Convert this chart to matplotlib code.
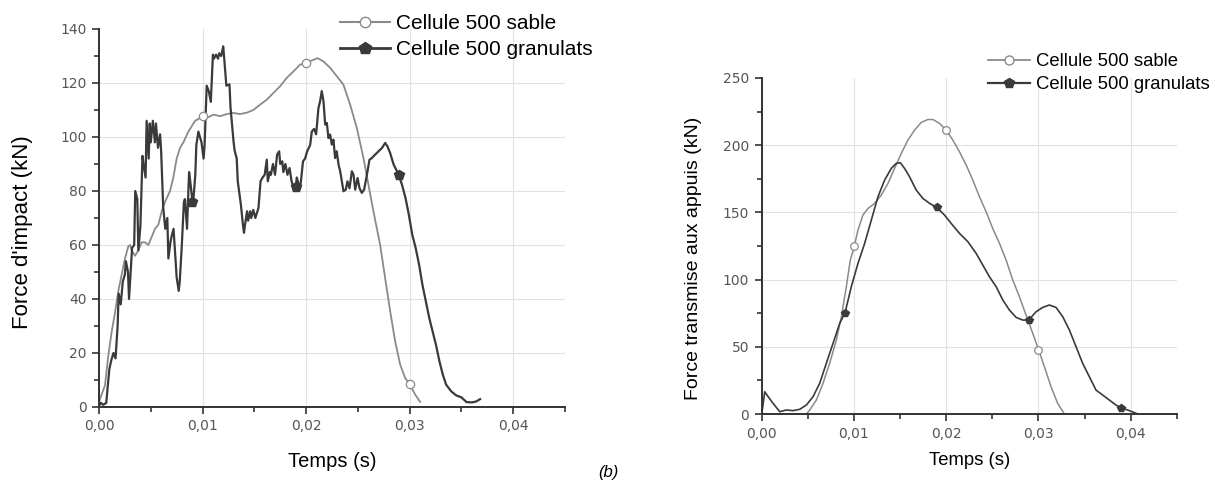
import matplotlib
matplotlib.use("Agg")
import matplotlib.pyplot as plt
from matplotlib.lines import Line2D
from matplotlib.ticker import FuncFormatter, MultipleLocator

# ---- data ----
# (a) force d'impact, time in s, force in kN
impact_sable_t = [0.0, 0.0001, 0.00058, 0.0009, 0.00123, 0.00155, 0.00187, 0.00219, 0.00251,
                  0.00283, 0.0030, 0.00316, 0.00348, 0.0038, 0.00412, 0.00444, 0.00477, 0.00509,
                  0.00541, 0.00573, 0.00606, 0.00638, 0.00686, 0.00718, 0.0075, 0.00783, 0.00815,
                  0.00863, 0.00928, 0.00998, 0.0104, 0.01105, 0.01169, 0.01234, 0.01298, 0.01362,
                  0.01427, 0.01491, 0.01556, 0.0162, 0.01684, 0.01749, 0.01813, 0.01878, 0.01942,
                  0.0200, 0.02071, 0.0211, 0.02167, 0.02232, 0.02297, 0.0236, 0.02425, 0.0249,
                  0.02554, 0.02602, 0.0265, 0.02715, 0.02763, 0.02812, 0.0286, 0.02908, 0.02957,
                  0.0300, 0.03053, 0.03101]
impact_sable_f = [1, 3, 8, 19, 28, 35, 43, 49, 55,
                  59.5, 60, 58, 56, 58, 61, 61, 60, 63,
                  66, 67.5, 72.5, 76, 80, 85, 92, 96, 98,
                  102, 106, 107.5, 107, 108.3, 107.7, 108.5, 108.9, 108.5,
                  109, 110, 112, 113.8, 116.3, 118.8, 121.9, 124.3, 126.8,
                  127.4, 128.6, 129.2, 128, 125.6, 122.5, 119.4, 112, 103.3,
                  92.2, 82.3, 72.5, 60, 47.8, 35.4, 24.3, 15.7, 10.7,
                  8.5, 4.6, 1.9]

impact_gran_t = [0.0, 0.0002, 0.0004, 0.0007, 0.0010, 0.0012, 0.0014, 0.0016, 0.0018, 0.0019,
                 0.0021, 0.0023, 0.0025, 0.0026, 0.0028, 0.0029, 0.0031, 0.0032, 0.0034, 0.0035,
                 0.0037, 0.0038, 0.0040, 0.0042, 0.0043, 0.0045, 0.0046, 0.0048, 0.0049, 0.0050,
                 0.0052, 0.0054, 0.0055, 0.0057, 0.0059, 0.0060, 0.0062, 0.0064, 0.0066, 0.0067,
                 0.0069, 0.0070, 0.0072, 0.0074, 0.0075, 0.0077, 0.0078, 0.0080, 0.0082, 0.0083,
                 0.0085, 0.0087, 0.0088, 0.0090, 0.0091, 0.0093, 0.0094, 0.0096, 0.0099, 0.0101,
                 0.0102, 0.0104, 0.0106, 0.0108, 0.0110, 0.0111, 0.0113, 0.0115, 0.0116, 0.0118,
                 0.0120, 0.0122, 0.0123, 0.0126, 0.0127, 0.0130, 0.0131, 0.0133, 0.0134, 0.0137,
                 0.0139, 0.0140, 0.0141, 0.0143, 0.0144, 0.0146, 0.0147, 0.0149, 0.0151, 0.0154,
                 0.0156, 0.0158, 0.0160, 0.0162, 0.0163, 0.0165, 0.0166, 0.0168, 0.0170, 0.0172,
                 0.0174, 0.0175, 0.0177, 0.0178, 0.0180, 0.0182, 0.0184, 0.0186, 0.0187, 0.0190,
                 0.0191, 0.0192, 0.0194, 0.0195, 0.0197, 0.0199, 0.0201, 0.02039, 0.02055, 0.02077,
                 0.02097, 0.02119, 0.02135, 0.02151, 0.02168, 0.02184, 0.0220, 0.02216, 0.02232,
                 0.02248, 0.02264, 0.0228, 0.02296, 0.02313, 0.02329, 0.02345, 0.02361, 0.02383,
                 0.02399, 0.02419, 0.02442, 0.02458, 0.02474, 0.02497, 0.02516, 0.02538, 0.0256,
                 0.02587, 0.02612, 0.02635, 0.02667, 0.02699, 0.02732, 0.02764, 0.02786, 0.02812,
                 0.02845, 0.02894, 0.02926, 0.0296, 0.02992, 0.03025, 0.03058, 0.03091, 0.03123,
                 0.03156, 0.03189, 0.03221, 0.03254, 0.03287, 0.0332, 0.03352, 0.03401, 0.03449,
                 0.03498, 0.0355, 0.0360, 0.0364, 0.0368]
impact_gran_f = [0.5, 1.5, 0.8, 1.5, 14, 17.5, 20, 18, 30, 42,
                 38, 46.5, 49, 54, 50, 40, 53, 59, 60, 80,
                 77, 58, 67, 93, 90, 85, 106, 92, 105, 98,
                 106, 98, 105, 96, 101, 95, 74, 66, 70, 55,
                 61, 63, 66, 54, 48, 43, 46.5, 60, 76, 77,
                 66, 87, 84, 77, 76, 86, 97, 102, 98, 92,
                 97, 119, 117, 113, 130.5, 129, 130.5, 129, 131, 130,
                 133.6, 124, 119, 119.5, 111, 98, 95, 92, 83.6, 75,
                 67.5, 64.5, 67.5, 72.5, 69, 72.5, 70, 73, 70, 73.7,
                 83.6, 85, 86, 91.6, 83.6, 87, 86, 90, 86, 93.5,
                 94.7, 90, 91, 87, 90, 86, 88.5, 83.6, 82.3, 81.5,
                 85, 83.6, 81, 83.6, 91, 92, 94.7, 97, 102, 103,
                 101, 110.7, 113.2, 117, 113.2, 104.6, 105.2, 99.6, 100.9,
                 97.2, 99, 92.2, 94.7, 89.8, 87.3, 83.6, 79.9, 80.5,
                 83.6, 81, 87.3, 86, 80.5, 84.8, 81, 79.3, 80.5,
                 86, 91.6, 92.2, 93.5, 94.7, 95.9, 97.8, 96.5, 94,
                 89.8, 86, 82.3, 77.4, 71.2, 63.8, 58.9, 52.7, 45.3,
                 39.1, 33, 28, 23, 17, 12, 8.3, 5.8, 4.3,
                 3.6, 1.8, 1.7, 2.0, 2.9]

impact_sable_mk_t = [0.010, 0.020, 0.030]
impact_sable_mk_f = [107.6, 127.4, 8.5]
impact_gran_mk_t = [0.009, 0.019, 0.029]
impact_gran_mk_f = [76, 81.5, 86]

# (b) force transmise aux appuis
appuis_sable_t = [0.0, 0.00484, 0.0052, 0.00592, 0.00664, 0.00736, 0.00809, 0.00863, 0.00917,
                  0.0096, 0.01004, 0.01043, 0.01097, 0.01152, 0.01224, 0.01296, 0.01368, 0.0144,
                  0.01513, 0.01585, 0.01657, 0.01729, 0.01801, 0.01856, 0.01928, 0.0200, 0.02072,
                  0.02144, 0.02217, 0.02289, 0.02361, 0.02433, 0.02505, 0.02578, 0.0265, 0.02722,
                  0.02794, 0.02866, 0.02939, 0.0300, 0.03065, 0.03137, 0.03209, 0.03282]
appuis_sable_f = [0, 0, 3, 10.4, 22.8, 37.7, 55, 72.4, 94.7,
                  114.5, 125, 136.8, 148, 153, 156.7, 162.9, 171.5, 182.7,
                  193.9, 203.8, 211.2, 216.9, 219.1, 219.1, 216.2, 211.2, 203.8,
                  195.1, 185.2, 174, 161.6, 150.5, 138, 126.9, 114.5, 99.7,
                  87.3, 73.6, 60, 48.1, 35.2, 20.3, 7.9, 0]

appuis_gran_t = [0.0, 0.00032, 0.00069, 0.00123, 0.00195, 0.00267, 0.00339, 0.00412, 0.00484,
                 0.00556, 0.00628, 0.0070, 0.00773, 0.00845, 0.00903, 0.00971, 0.01043, 0.01116,
                 0.01188, 0.0126, 0.01332, 0.01404, 0.01458, 0.01502, 0.01549, 0.01603, 0.01675,
                 0.01747, 0.0182, 0.01899, 0.01982, 0.02054, 0.02144, 0.02235, 0.02325, 0.02397,
                 0.02469, 0.02542, 0.02614, 0.02686, 0.02758, 0.0283, 0.02895, 0.02975, 0.03047,
                 0.03119, 0.03191, 0.03264, 0.03336, 0.03408, 0.0348, 0.03552, 0.03625, 0.03697,
                 0.03769, 0.03841, 0.03897, 0.03987, 0.04077]
appuis_gran_f = [0, 16.6, 12.9, 7.9, 1.7, 3, 2.5, 3.5, 6.7,
                 12.9, 22.8, 37.7, 52.6, 67.4, 75.4, 94.7, 112, 127,
                 144.3, 161.6, 174, 182.7, 186.4, 187, 182.7, 176.5, 166.6,
                 160.4, 156.7, 153.7, 148, 141.8, 134.4, 128.2, 119.5, 110.8,
                 102.1, 94.7, 84.8, 77.3, 71.9, 69.9, 69.9, 76.1, 79.3,
                 81.1, 79.3, 72.4, 62.5, 50.1, 37.7, 27.8, 17.8, 14.1,
                 10.4, 6.7, 4.7, 2.5, 0]

appuis_sable_mk_t = [0.010, 0.020, 0.030]
appuis_sable_mk_f = [125, 211, 48]
appuis_gran_mk_t = [0.009, 0.019, 0.029, 0.039]
appuis_gran_mk_f = [75.4, 153.7, 69.9, 4.7]

labels = ["Cellule 500 sable", "Cellule 500 granulats"]
x_ticks = [0.0, 0.01, 0.02, 0.03, 0.04]

GRAY = "#8a8a8a"
DARK = "#3a3a3a"
TXT = "Liberation Sans"

fig = plt.figure(figsize=(12.13, 4.88), dpi=100)
ax1 = fig.add_axes([0.0816, 0.166, 0.3842, 0.7746])
ax2 = fig.add_axes([0.628, 0.1516, 0.3421, 0.6886])


def style_axis(ax, ymax, ystep):
    ax.set_xlim(0, 0.045)
    ax.set_ylim(0, ymax)
    ax.set_xticks(x_ticks)
    ax.xaxis.set_minor_locator(MultipleLocator(0.005))
    ax.set_yticks(range(0, ymax + 1, ystep))
    ax.yaxis.set_minor_locator(MultipleLocator(ystep / 2))
    ax.xaxis.set_major_formatter(FuncFormatter(lambda v, p: f"{v:.2f}".replace(".", ",")))
    for s in ["top", "right"]:
        ax.spines[s].set_visible(False)
    for s in ["left", "bottom"]:
        ax.spines[s].set_color("#333333")
        ax.spines[s].set_linewidth(1.4)
    ax.tick_params(which="major", direction="out", length=5, width=1.2, color="#333333",
                   labelsize=10, labelcolor="#555555", pad=4)
    ax.tick_params(which="minor", direction="out", length=3.5, width=1.2, color="#333333")
    ax.grid(True, which="major", color="#e2e2e2", linewidth=0.8)
    ax.set_axisbelow(True)
    # no grid line along the top of the frame
    ax.yaxis.get_gridlines()[-1].set_visible(False)


# ---- (a) ----
style_axis(ax1, 140, 20)
ax1.plot(impact_sable_t, impact_sable_f, color=GRAY, lw=1.3)
ax1.plot(impact_gran_t, impact_gran_f, color=DARK, lw=1.6)
ax1.plot(impact_sable_mk_t, impact_sable_mk_f, ls="none", marker="o", ms=6,
         mfc="white", mec=GRAY, mew=0.9)
ax1.plot(impact_gran_mk_t, impact_gran_mk_f, ls="none", marker="p", ms=7.5,
         mfc=DARK, mec=DARK)
ax1.set_xlabel("Temps (s)", fontsize=14.5, family=TXT, va="center")
ax1.xaxis.set_label_coords(0.5, -0.1455)
ax1.set_ylabel("Force d'impact (kN)", fontsize=16, family=TXT, va="center")
ax1.yaxis.set_label_coords(-0.165, 0.463)

h1 = [Line2D([], [], color=GRAY, lw=1.5, marker="o", ms=7.5, mfc="white", mec=GRAY),
      Line2D([], [], color=DARK, lw=2, marker="p", ms=9, mfc=DARK, mec=DARK)]
fig.legend(h1, labels, loc="upper left", bbox_to_anchor=(0.2803, 0.971), frameon=False,
           borderpad=0, borderaxespad=0, handlelength=2.4, handletextpad=0.3,
           labelspacing=0.35, prop={"family": TXT, "size": 15})

# ---- (b) ----
style_axis(ax2, 250, 50)
ax2.plot(appuis_sable_t, appuis_sable_f, color=GRAY, lw=1.1)
ax2.plot(appuis_gran_t, appuis_gran_f, color=DARK, lw=1.2)
ax2.plot(appuis_sable_mk_t, appuis_sable_mk_f, ls="none", marker="o", ms=5.5,
         mfc="white", mec=GRAY, mew=0.9)
ax2.plot(appuis_gran_mk_t, appuis_gran_mk_f, ls="none", marker="p", ms=6,
         mfc=DARK, mec=DARK)
ax2.set_xlabel("Temps (s)", fontsize=13.3, family=TXT, va="center")
ax2.xaxis.set_label_coords(0.5, -0.137)
ax2.set_ylabel("Force transmise aux appuis (kN)", fontsize=14, family=TXT, va="center")
ax2.yaxis.set_label_coords(-0.164, 0.464)

h2 = [Line2D([], [], color=GRAY, lw=1.3, marker="o", ms=6.5, mfc="white", mec=GRAY),
      Line2D([], [], color=DARK, lw=1.6, marker="p", ms=7, mfc=DARK, mec=DARK)]
fig.legend(h2, labels, loc="upper left", bbox_to_anchor=(0.8145, 0.8904), frameon=False,
           borderpad=0, borderaxespad=0, handlelength=2.3, handletextpad=0.3,
           labelspacing=0.31, prop={"family": TXT, "size": 13.3})

fig.text(608 / 1213, 1 - 472 / 488, "(b)", ha="center", va="center", style="italic",
         fontsize=12, family=TXT)

fig.savefig("out.png", dpi=100)
